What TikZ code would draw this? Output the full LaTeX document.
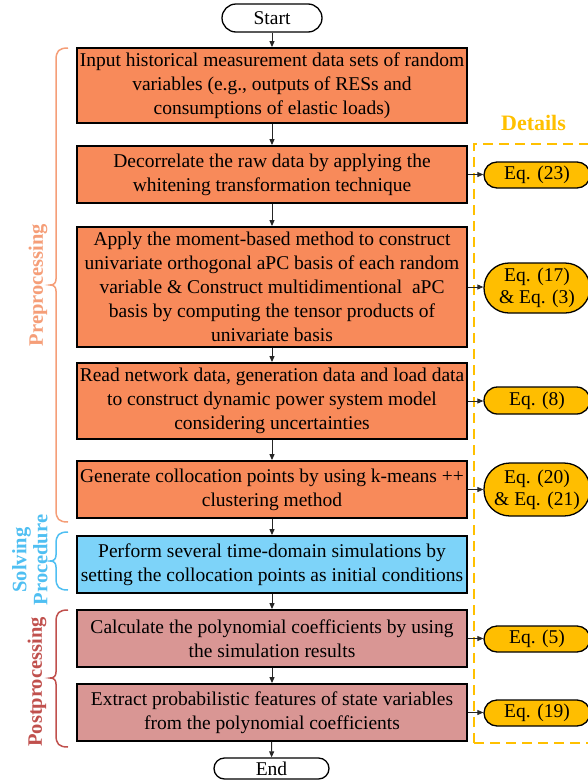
\documentclass[tikz,border=0pt]{standalone}
\usepackage{fontspec}
\setmainfont{Liberation Serif}
\usetikzlibrary{arrows.meta}
\definecolor{boxor}{HTML}{F88A5A}
\definecolor{boxbl}{HTML}{7DD3F9}
\definecolor{boxpk}{HTML}{D99694}
\definecolor{eqc}{HTML}{FFBE00}
\definecolor{detc}{HTML}{FFC000}
\definecolor{prec}{HTML}{F59E78}
\definecolor{solc}{HTML}{4FBFF2}
\definecolor{posc}{HTML}{C0504D}
\begin{document}
\begin{tikzpicture}[x=1pt,y=-1pt,
  every node/.style={font=\fontsize{19.5}{24}\selectfont},
  stepbox/.style={draw=black, line width=1.8pt, align=center, minimum width=390pt, inner sep=2pt},
  term/.style={draw=black, line width=1.3pt, fill=white, inner sep=0pt},
  eqn/.style={draw=black, line width=1.3pt, fill=eqc, align=center, minimum width=106pt, inner sep=0pt, font=\fontsize{19.5}{22}\selectfont},
  flow/.style={draw=black!85, line width=1pt, -{Triangle[length=6pt,width=5pt]}},
  side/.style={font=\fontsize{20.5}{21}\selectfont\bfseries, rotate=90, align=center},
  brc/.style={line width=1.5pt}
]
\useasboundingbox (0,0) rectangle (588,782);
\clip (0,0) rectangle (588,782);

% terminals
\node[term, minimum width=100pt, minimum height=28pt, rounded corners=14pt] (start) at (272,18) {Start};
\node[term, minimum width=115pt, minimum height=21pt, rounded corners=10.5pt] (end) at (271.5,768.5) {End};

% step boxes
\node[stepbox, fill=boxor, minimum height=75pt] (b1) at (272,85.5) {Input historical measurement data sets of random\\variables (e.g., outputs of RESs and\\consumptions of elastic loads)};
\node[stepbox, fill=boxor, minimum height=57pt] (b2) at (272,174.5) {Decorrelate the raw data by applying the\\whitening transformation technique};
\node[stepbox, fill=boxor, minimum height=120pt] (b3) at (272,287) {Apply the moment-based method to construct\\univariate orthogonal aPC basis of each random\\variable \& Construct multidimentional\ \ aPC\\basis by computing the tensor products of\\univariate basis};
\node[stepbox, fill=boxor, minimum height=76pt] (b4) at (272,401) {Read network data, generation data and load data\\to construct dynamic power system model\\considering uncertainties};
\node[stepbox, fill=boxor, minimum height=57pt] (b5) at (272,489.5) {Generate collocation points by using k-means ++\\clustering method};
\node[stepbox, fill=boxbl, minimum height=57pt] (b6) at (272,564.5) {Perform several time-domain simulations by\\setting the collocation points as initial conditions};
\node[stepbox, fill=boxpk, minimum height=57pt] (b7) at (272,638.5) {Calculate the polynomial coefficients by using\\the simulation results};
\node[stepbox, fill=boxpk, minimum height=57pt] (b8) at (272,712.5) {Extract probabilistic features of state variables\\from the polynomial coefficients};

% vertical flow
\draw[flow] (start) -- (b1);
\draw[flow] (b1) -- (b2);
\draw[flow] (b2) -- (b3);
\draw[flow] (b3) -- (b4);
\draw[flow] (b4) -- (b5);
\draw[flow] (b5) -- (b6);
\draw[flow] (b6) -- (b7);
\draw[flow] (b7) -- (b8);
\draw[flow] (b8) -- (end);

% details
\node[text=detc, font=\fontsize{22}{24}\selectfont\bfseries] (det) at (533.5,123) {Details};
\draw[detc, line width=1.8pt, dash pattern=on 10pt off 6pt] (474,743) -- (474,144) -- (600,144);
\draw[detc, line width=1.8pt, dash pattern=on 10pt off 6pt] (474,743) -- (600,743);

\node[eqn, minimum height=26pt, rounded corners=13pt] (e1) at (537,175) {Eq. (23)};
\node[eqn, minimum height=50pt, rounded corners=25pt] (e2) at (537,288) {Eq. (17)\\\& Eq. (3)};
\node[eqn, minimum height=27pt, rounded corners=13.5pt] (e3) at (537,400.5) {Eq. (8)};
\node[eqn, minimum height=53pt, rounded corners=26pt] (e4) at (537,489.5) {Eq. (20)\\\& Eq. (21)};
\node[eqn, minimum height=26pt, rounded corners=13pt] (e5) at (537,639) {Eq. (5)};
\node[eqn, minimum height=26pt, rounded corners=13pt] (e6) at (537,713) {Eq. (19)};

\draw[flow, line width=0.8pt] (b2.east) -- (b2.east -| e1.west);
\draw[flow, line width=0.8pt] (b3.east) -- (b3.east -| e2.west);
\draw[flow, line width=0.8pt] (b4.east) -- (b4.east -| e3.west);
\draw[flow, line width=0.8pt] (b5.east) -- (b5.east -| e4.west);
\draw[flow, line width=0.8pt] (b7.east) -- (b7.east -| e5.west);
\draw[flow, line width=0.8pt] (b8.east) -- (b8.east -| e6.west);

% braces
\draw[brc, prec] (68,48) .. controls (59,48) and (56,51) .. (56,60) -- (56,279) .. controls (56,283) and (54,285) .. (50,285) .. controls (54,285) and (56,287) .. (56,291) -- (56,510) .. controls (56,519) and (59,522) .. (68,522);
\draw[brc, solc] (68,532) .. controls (59,532) and (56,535) .. (56,544) -- (56,555) .. controls (56,559) and (54,561) .. (50,561) .. controls (54,561) and (56,563) .. (56,567) -- (56,578) .. controls (56,587) and (59,590) .. (68,590);
\draw[brc, posc] (68,610) .. controls (59,610) and (56,613) .. (56,622) -- (56,672) .. controls (56,676) and (54,678) .. (50,678) .. controls (54,678) and (56,680) .. (56,684) -- (56,735) .. controls (56,744) and (59,747) .. (68,747);

\node[side, text=prec] (tpre) at (38,285) {Preprocessing};
\node[side, text=solc] (tsol) at (30,560) {Solving\\Procedure};
\node[side, text=posc] (tpos) at (37,682) {Postprocessing};
\end{tikzpicture}
\end{document}
